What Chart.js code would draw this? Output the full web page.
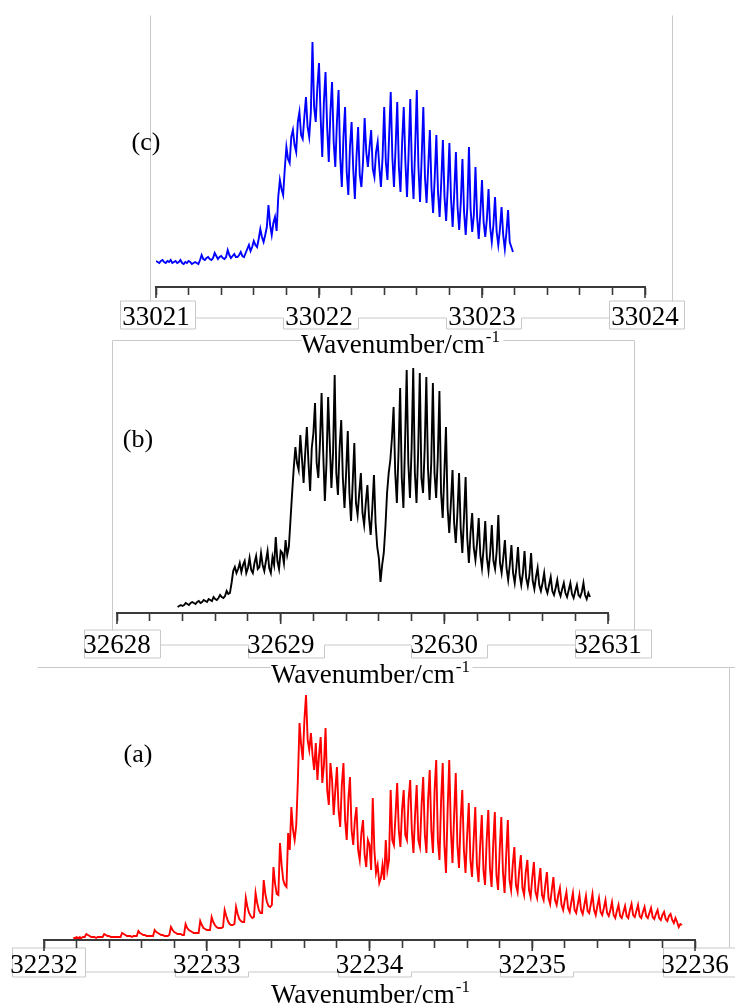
<!DOCTYPE html>
<html>
<head>
<meta charset="utf-8">
<script src="https://cdn.jsdelivr.net/npm/chart.js@4.4.1/dist/chart.umd.min.js"></script>
<style>
  html, body { margin: 0; padding: 0; background: #fff; }
  #wrap { position: relative; width: 735px; height: 1005px; overflow: hidden; }
  canvas { position: absolute; left: 0; top: 0; }
</style>
</head>
<body>
<div id="wrap">
  <canvas id="chartC" width="735" height="1005"></canvas>
  <canvas id="chartB" width="735" height="1005"></canvas>
  <canvas id="chartA" width="735" height="1005"></canvas>
</div>
<script>
// (c) spectrum, one value every 0.01 cm-1 from cStart (rows of 0.1 cm-1)
const cStart = 33021.00, cStep = 0.01
const cIntensity = [
  26, 25, 24, 26, 27, 25, 24, 26, 25, 27,
  24, 25, 26, 24, 25, 27, 24, 23, 25, 24,
  26, 25, 23, 24, 25, 24, 23, 27, 32, 28,
  27, 29, 30, 28, 27, 29, 34, 31, 28, 30,
  31, 29, 28, 30, 37, 32, 29, 31, 33, 30,
  30, 32, 35, 31, 30, 34, 38, 42, 36, 40,
  46, 42, 40, 48, 58, 50, 45, 52, 60, 82,
  62, 52, 64, 70, 56, 90, 107, 98, 92, 118,
  140, 128, 124, 150, 157, 142, 135, 165, 175, 152,
  148, 170, 190, 160, 150, 175, 245, 180, 165, 200,
  224, 170, 130, 185, 215, 160, 125, 175, 205, 145,
  120, 165, 197, 130, 100, 150, 180, 115, 92, 140,
  165, 118, 88, 130, 160, 112, 100, 125, 169, 135,
  120, 140, 157, 118, 110, 135, 145, 120, 100, 130,
  180, 125, 107, 150, 195, 130, 100, 140, 185, 120,
  95, 145, 180, 125, 90, 135, 188, 118, 88, 140,
  197, 120, 85, 130, 180, 110, 84, 120, 157, 100,
  74, 110, 152, 95, 70, 105, 147, 90, 66, 100,
  144, 88, 60, 95, 135, 80, 57, 85, 128, 75,
  52, 80, 140, 78, 55, 72, 120, 70, 48, 75,
  107, 65, 50, 68, 98, 60, 45, 62, 90, 55,
  42, 58, 80, 52, 38, 55, 77, 45, 40, 35
]
const cTicks = [33021, 33022, 33023, 33024]

// (b) spectrum
const bStart = 32628.37, bStep = 0.01
const bIntensity = [
  6, 7, 8, 7, 8, 10, 9, 8, 10, 11,
  10, 9, 11, 12, 10, 11, 13, 12, 11, 14,
  13, 12, 16, 14, 13, 15, 18, 16, 15, 17,
  22, 19, 20, 30, 42, 46, 40, 44, 50, 41,
  48, 52, 40, 45, 55, 43, 40, 50, 57, 44,
  46, 60, 48, 42, 52, 62, 45, 40, 56, 48,
  76, 52, 44, 62, 60, 50, 73, 58, 66, 93,
  120, 145, 166, 150, 143, 178, 155, 130, 160, 186,
  150, 122, 165, 180, 210, 150, 135, 170, 220, 160,
  112, 150, 216, 170, 125, 160, 238, 140, 118, 165,
  193, 135, 105, 140, 182, 120, 92, 130, 170, 110,
  98, 120, 140, 100, 88, 110, 128, 95, 78, 105,
  138, 90, 66, 55, 31, 48, 60, 86, 120, 140,
  153, 175, 206, 140, 110, 160, 225, 135, 105, 170,
  243, 150, 115, 165, 245, 140, 110, 160, 240, 135,
  120, 165, 236, 145, 113, 150, 230, 140, 115, 155,
  222, 120, 95, 140, 186, 105, 80, 110, 143, 90,
  70, 100, 140, 85, 60, 95, 136, 75, 50, 80,
  100, 65, 53, 70, 95, 58, 45, 65, 92, 55,
  42, 60, 88, 52, 44, 62, 98, 50, 40, 55,
  73, 45, 33, 48, 68, 40, 30, 45, 66, 38,
  28, 40, 62, 35, 27, 38, 60, 32, 24, 36,
  45, 28, 22, 30, 40, 25, 20, 28, 36, 22,
  18, 25, 33, 22, 17, 24, 30, 20, 16, 23,
  30, 19, 15, 22, 28, 18, 16, 21, 30, 18,
  14, 20, 16
]
const bTicks = [32628, 32629, 32630, 32631]

// (a) spectrum
const aStart = 32232.18, aStep = 0.01
const aIntensity = [
  2, 2, 3, 2, 3, 2, 3, 3, 6, 5,
  4, 3, 3, 3, 2, 3, 3, 3, 3, 6,
  5, 4, 4, 3, 3, 3, 3, 3, 3, 3,
  7, 6, 5, 4, 4, 4, 3, 4, 4, 4,
  9, 7, 6, 5, 5, 4, 4, 4, 4, 4,
  10, 8, 7, 6, 5, 5, 4, 4, 4, 5,
  13, 10, 8, 7, 6, 6, 6, 5, 5, 16,
  12, 10, 9, 8, 7, 7, 7, 7, 19, 15,
  12, 11, 10, 10, 10, 23, 18, 15, 13, 12,
  12, 12, 13, 30, 24, 19, 16, 15, 15, 16,
  33, 26, 21, 19, 18, 18, 42, 33, 27, 24,
  22, 23, 47, 37, 30, 27, 27, 60, 46, 38,
  34, 33, 35, 73, 56, 46, 45, 97, 75, 60,
  55, 53, 107, 90, 133, 110, 100, 115, 160, 217,
  195, 180, 220, 245, 200, 190, 207, 185, 170, 197,
  160, 185, 203, 157, 175, 212, 150, 135, 177, 160,
  125, 150, 173, 130, 113, 155, 177, 120, 100, 140,
  163, 110, 95, 120, 133, 90, 80, 107, 120, 85,
  73, 100, 95, 70, 142, 90, 67, 75, 57, 62,
  75, 60, 100, 70, 80, 150, 100, 95, 125, 157,
  110, 93, 130, 150, 105, 100, 140, 160, 110, 87,
  125, 155, 100, 93, 135, 163, 105, 87, 140, 170,
  110, 87, 150, 180, 100, 80, 140, 177, 95, 67,
  130, 180, 110, 77, 125, 167, 95, 72, 120, 150,
  90, 67, 105, 137, 80, 63, 100, 133, 75, 58,
  95, 125, 70, 55, 100, 130, 72, 53, 95, 128,
  65, 50, 90, 123, 68, 47, 85, 120, 60, 50,
  75, 93, 55, 48, 70, 85, 52, 45, 68, 80,
  50, 43, 62, 78, 48, 42, 58, 72, 45, 40,
  55, 68, 42, 36, 50, 63, 40, 35, 45, 52,
  35, 30, 40, 48, 32, 28, 38, 47, 30, 27,
  36, 45, 30, 26, 35, 44, 29, 27, 36, 46,
  30, 25, 34, 42, 28, 25, 32, 40, 27, 24,
  30, 38, 25, 22, 29, 35, 24, 22, 28, 34,
  24, 22, 30, 36, 25, 23, 29, 35, 24, 22,
  28, 33, 24, 22, 27, 32, 23, 21, 26, 30,
  22, 20, 25, 28, 21, 19, 24, 26, 20, 17,
  22, 18, 13, 16, 15
]
const aTicks = [32232, 32233, 32234, 32235, 32236]

const serif = '"Liberation Serif", "Times New Roman", serif'
const labelSize = 27

function toPoints(start, step, values) {
  return values.map((v, i) => ({ x: +(start + i * step).toFixed(3), y: v }))
}

// frame lines, label boxes, long major ticks, panel letter and axis title
function decorFor(p) {
  return {
    id: 'decor',
    beforeDraw(chart) {
      const ctx = chart.ctx
      const xs = chart.scales.x
      const ay = chart.chartArea.bottom
      ctx.save()
      ctx.strokeStyle = '#c9c9c9'
      ctx.lineWidth = 1
      p.frame.forEach(s => {
        ctx.beginPath()
        ctx.moveTo(s[0] + 0.5, s[1] + 0.5)
        ctx.lineTo(s[2] + 0.5, s[3] + 0.5)
        ctx.stroke()
      })
      // first and last label sit in full boxes, the others in notches under a strip line
      const px = p.ticks.map(v => Math.round(xs.getPixelForValue(v)) + 0.5)
      const [bl, br] = p.boxX
      const [bt, bs, bb] = p.boxY.map(d => Math.round(ay) + d)
      const first = px[0], last = px[px.length - 1]
      ctx.beginPath()
      ctx.rect(first + bl, bt, br - bl, bb - bt)
      ctx.rect(last + bl, bt, br - bl, bb - bt)
      ctx.moveTo(first + br, bs)
      px.slice(1, -1).forEach(x => {
        ctx.lineTo(x + bl, bs)
        ctx.lineTo(x + bl, bb)
        ctx.lineTo(x + br, bb)
        ctx.lineTo(x + br, bs)
      })
      ctx.lineTo(last + bl, bs)
      ctx.stroke()
      ctx.restore()
    },
    afterDraw(chart) {
      const ctx = chart.ctx
      const xs = chart.scales.x
      const ay = chart.chartArea.bottom
      ctx.save()
      ctx.strokeStyle = '#3a3a3a'
      ctx.lineWidth = 1.6
      p.ticks.forEach(v => {
        const x = xs.getPixelForValue(v)
        ctx.beginPath()
        ctx.moveTo(x, ay)
        ctx.lineTo(x, ay + 11)
        ctx.stroke()
      })
      ctx.fillStyle = '#000'
      ctx.font = '26px ' + serif
      ctx.textAlign = 'center'
      ctx.textBaseline = 'middle'
      ctx.fillText(p.letter, p.letterX, p.letterY)

      const main = 'Wavenumber/cm', sup = '-1'
      ctx.font = labelSize + 'px ' + serif
      const w1 = ctx.measureText(main).width
      ctx.font = '17px ' + serif
      const w2 = ctx.measureText(sup).width
      const x0 = p.titleX - (w1 + w2) / 2
      ctx.textAlign = 'left'
      ctx.textBaseline = 'alphabetic'
      ctx.font = labelSize + 'px ' + serif
      ctx.fillText(main, x0, p.titleY)
      ctx.font = '17px ' + serif
      ctx.fillText(sup, x0 + w1 + 1, p.titleY - 11)
      ctx.restore()
    }
  }
}

function buildPanel(id, p) {
  const axisHeight = 8 + 2 * p.tickPad + labelSize * 1.2
  return new Chart(document.getElementById(id), {
    type: 'line',
    data: {
      datasets: [{
        data: toPoints(p.start, p.step, p.values),
        borderColor: p.color,
        borderWidth: 1.9,
        pointRadius: 0,
        tension: 0
      }]
    },
    options: {
      responsive: false,
      animation: false,
      events: [],
      layout: {
        padding: { left: p.left, right: 735 - p.right, top: p.top, bottom: 1005 - p.axisY - axisHeight }
      },
      plugins: { legend: { display: false }, tooltip: { enabled: false } },
      scales: {
        x: {
          type: 'linear',
          min: p.ticks[0],
          max: p.ticks[p.ticks.length - 1],
          border: { display: true, color: '#3a3a3a', width: 2 },
          grid: { drawOnChartArea: false, drawTicks: true, tickLength: 8, tickColor: '#3a3a3a', tickWidth: 1.6 },
          ticks: {
            stepSize: 0.2,
            autoSkip: false,
            maxRotation: 0,
            minRotation: 0,
            padding: p.tickPad,
            color: '#000',
            font: { family: serif, size: labelSize },
            callback: v => Math.abs(v - Math.round(v)) < 1e-6 ? String(Math.round(v)) : ''
          }
        },
        y: { display: false, min: 0, max: p.axisY - p.top }
      }
    },
    plugins: [decorFor(p)]
  })
}

buildPanel('chartC', {
  start: cStart, step: cStep, values: cIntensity, ticks: cTicks, color: '#0000ff',
  left: 156, right: 645, top: 30, axisY: 287, tickPad: 7,
  boxX: [-36, 39], boxY: [14, 31, 42],
  frame: [[150, 15, 150, 301], [672, 15, 672, 301]],
  letter: '(c)', letterX: 146, letterY: 143,
  titleX: 400, titleY: 353
})

buildPanel('chartB', {
  start: bStart, step: bStep, values: bIntensity, ticks: bTicks, color: '#000000',
  left: 117, right: 608, top: 350, axisY: 613, tickPad: 9,
  boxX: [-33, 43], boxY: [17, 32, 45],
  frame: [[112, 340, 301, 340], [503, 340, 634, 340], [112, 340, 112, 630], [634, 340, 634, 630]],
  letter: '(b)', letterX: 138, letterY: 440,
  titleX: 370, titleY: 683
})

buildPanel('chartA', {
  start: aStart, step: aStep, values: aIntensity, ticks: aTicks, color: '#ff0000',
  left: 44, right: 695, top: 680, axisY: 940, tickPad: 2,
  boxX: [-32, 41], boxY: [8, 32, 37],
  frame: [[37, 667, 270, 667], [472, 667, 735, 667], [729, 667, 729, 947]],
  letter: '(a)', letterX: 138, letterY: 755,
  titleX: 370, titleY: 1003
})
</script>
</body>
</html>
